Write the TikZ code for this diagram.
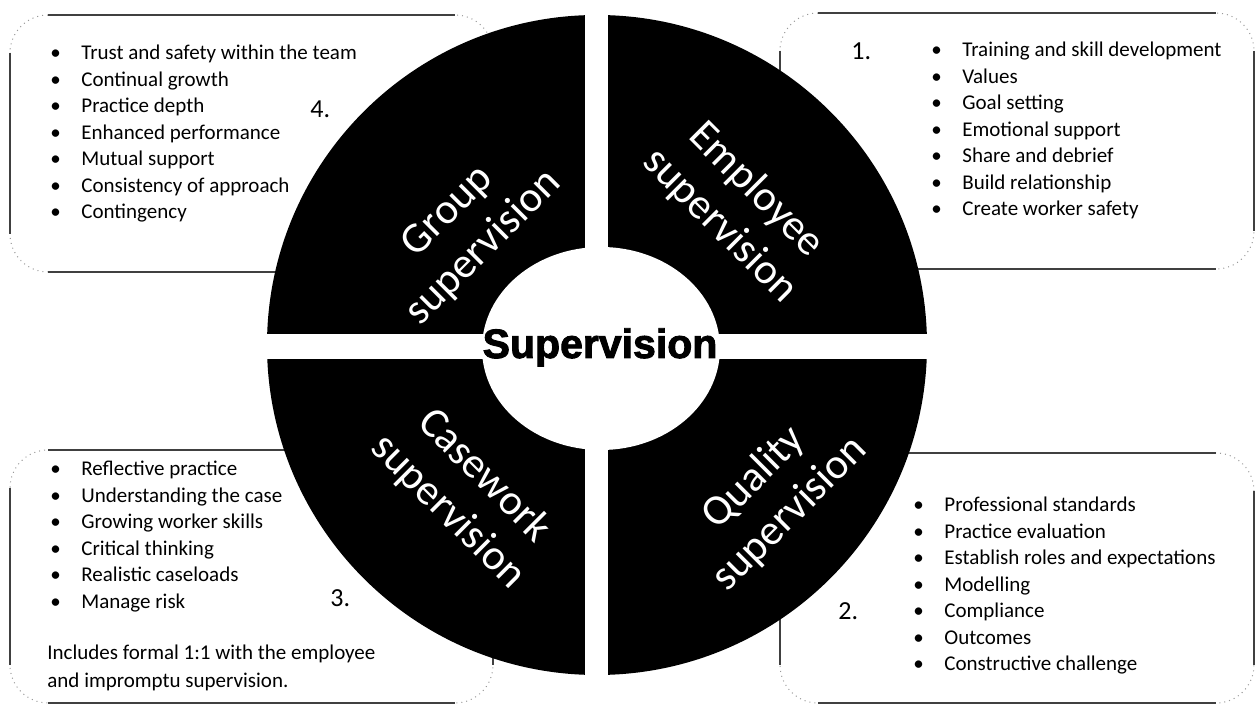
\documentclass[tikz,border=0pt]{standalone}
\usepackage{fontspec}
\setmainfont{Carlito}
\newfontfamily\hubfont{Liberation Sans}[BoldFeatures={FakeBold=2.2}]
\def\infobox#1#2#3#4{%
  \draw[boxcorner] (#1,#2) rectangle (#3,#4);
  \draw[boxedge] (#1+38,#2) -- (#3-38,#2) (#1+38,#4) -- (#3-38,#4)
                 (#1,#2+38) -- (#1,#4-38) (#3,#2+38) -- (#3,#4-38);}
\def\bul{\makebox[15.5pt][l]{\textbullet}}
\tikzset{
  boxcorner/.style={draw=black!40, dotted, line width=0.5pt, rounded corners=19pt},
  boxedge/.style={draw=black!75, line width=0.8pt},
  quarter/.style={text=white, align=center, font=\fontsize{21.5}{25.5}\selectfont},
  list/.style={anchor=base west, inner sep=0pt, font=\fontsize{10.5}{13.25}\selectfont},
  num/.style={anchor=base west, inner sep=0pt, font=\fontsize{13}{15}\selectfont},
}
\begin{document}
\begin{tikzpicture}[x=0.5pt,y=-0.5pt]
  \useasboundingbox (0,0) rectangle (1255,705);
  % the four boxes behind the disc
  \infobox{10}{15}{493}{272}
  \infobox{780}{13}{1254}{269}
  \infobox{10}{450}{493}{703}
  \infobox{780}{453}{1254}{703}
  % disc, split into quarters, with a hole
  \fill (597,345) circle [radius=165pt];
  \fill[white] (585,5) rectangle (608,685);
  \fill[white] (255,334) rectangle (940,359);
  \fill[white] (601,348.5) ellipse [x radius=59.5pt, y radius=50.75pt];
  \node[inner sep=0pt, anchor=base, font=\hubfont\bfseries\fontsize{20.5}{24}\selectfont]
    (hub) at (600,358) {Supervision};
  \node[quarter, rotate=45]  (group)    at (466,230) {Group\\supervision};
  \node[quarter, rotate=-45] (employee) at (738,208) {Employee\\supervision};
  \node[quarter, rotate=-45] (casework) at (466,494) {Casework\\supervision};
  \node[quarter, rotate=45]  (quality)  at (772,496) {Quality\\supervision};
  % lists
  \node[list] (list4) at (50,60) {\begin{tabular}[t]{@{}l@{}}
    \bul Trust and safety within the team\\
    \bul Continual growth\\
    \bul Practice depth\\
    \bul Enhanced performance\\
    \bul Mutual support\\
    \bul Consistency of approach\\
    \bul Contingency
  \end{tabular}};
  \node[list] (list1) at (931,57) {\begin{tabular}[t]{@{}l@{}}
    \bul Training and skill development\\
    \bul Values\\
    \bul Goal setting\\
    \bul Emotional support\\
    \bul Share and debrief\\
    \bul Build relationship\\
    \bul Create worker safety
  \end{tabular}};
  \node[list] (list3) at (50,476) {\begin{tabular}[t]{@{}l@{}}
    \bul Reflective practice\\
    \bul Understanding the case\\
    \bul Growing worker skills\\
    \bul Critical thinking\\
    \bul Realistic caseloads\\
    \bul Manage risk
  \end{tabular}};
  \node[list] (note3) at (47,660) {\begin{tabular}[t]{@{}l@{}}
    Includes formal 1:1 with the employee\\[0.7pt]
    and impromptu supervision.
  \end{tabular}};
  \node[list] (list2) at (913,512) {\begin{tabular}[t]{@{}l@{}}
    \bul Professional standards\\
    \bul Practice evaluation\\
    \bul Establish roles and expectations\\
    \bul Modelling\\
    \bul Compliance\\
    \bul Outcomes\\
    \bul Constructive challenge
  \end{tabular}};
  \node[num] (n4) at (310,118) {4.};
  \node[num] (n1) at (851,60)  {1.};
  \node[num] (n3) at (330,607) {3.};
  \node[num] (n2) at (838,620) {2.};
\end{tikzpicture}
\end{document}
